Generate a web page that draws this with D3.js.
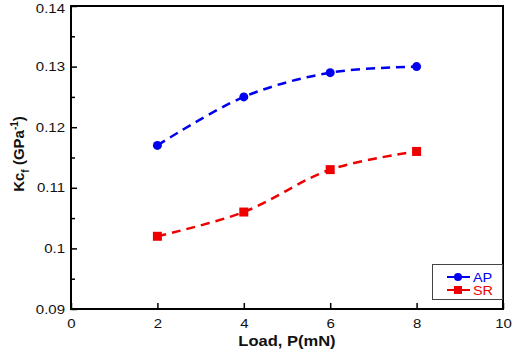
<!DOCTYPE html>
<html>
<head>
<meta charset="utf-8">
<script src="https://cdnjs.cloudflare.com/ajax/libs/d3/7.8.5/d3.min.js"></script>
<style>
  body { margin: 0; background: #fff; }
  text { font-family: "Liberation Sans", Arial, sans-serif; }
</style>
</head>
<body>
<div id="chart"></div>
<script>
var loads = [2, 4, 6, 8]
var apValues = [0.117, 0.125, 0.129, 0.130]
var srValues = [0.102, 0.106, 0.113, 0.116]
var xTicks = [0, 2, 4, 6, 8, 10]
var yTicks = [0.09, 0.1, 0.11, 0.12, 0.13, 0.14]
var yTickLabels = ["0.09", "0.1", "0.11", "0.12", "0.13", "0.14"]

var width = 512, height = 352
var margin = {left: 71, top: 6, right: 9, bottom: 43}

var x = d3.scaleLinear().domain([0, 10]).range([margin.left, width - margin.right])
var y = d3.scaleLinear().domain([0.09, 0.14]).range([height - margin.bottom, margin.top])

var svg = d3.select("#chart").append("svg")
  .attr("width", width)
  .attr("height", height)

// the original picture is a bit wider than tall, so text looks stretched sideways
function stretch(sel, k) {
  sel.each(function () {
    var len = this.getComputedTextLength()
    d3.select(this).attr("textLength", len * k).attr("lengthAdjust", "spacingAndGlyphs")
  })
}

// axes, ticks inward
var xAxis = svg.append("g")
  .attr("transform", `translate(0,${y(0.09)})`)
  .call(d3.axisBottom(x).tickValues(xTicks).tickSize(-6).tickPadding(10).tickFormat(d3.format("d")))
var yMinor = d3.range(0.095, 0.14, 0.01)
svg.append("g")
  .attr("transform", `translate(${x(0)},0)`)
  .call(d3.axisLeft(y).tickValues(yMinor).tickSize(-4).tickFormat(""))
var yAxis = svg.append("g")
  .attr("transform", `translate(${x(0)},0)`)
  .call(d3.axisLeft(y).tickValues(yTicks).tickSize(-6).tickPadding(6).tickFormat((d, i) => yTickLabels[i]))

svg.selectAll(".domain").remove()
svg.selectAll(".tick line").attr("stroke", "#000").attr("stroke-width", 1.5)
svg.selectAll(".tick text").attr("font-size", 12.5).attr("fill", "#111")
  .attr("font-family", "Liberation Sans, Arial, sans-serif")
stretch(svg.selectAll(".tick text"), 1.2)
// keep the top label inside the picture
yAxis.selectAll(".tick text").filter(d => d == 0.14).attr("dy", "0.5em")

// frame
svg.append("rect")
  .attr("x", x(0)).attr("y", y(0.14))
  .attr("width", x(10) - x(0)).attr("height", y(0.09) - y(0.14))
  .attr("fill", "none").attr("stroke", "#000").attr("stroke-width", 2)

var line = d3.line()
  .x((d, i) => x(loads[i]))
  .y(d => y(d))
  .curve(d3.curveCatmullRom)

var series = [
  {name: "AP", values: apValues, color: "#0000ee", shape: "circle"},
  {name: "SR", values: srValues, color: "#ee0000", shape: "square"}
]

series.forEach(s => {
  svg.append("path")
    .attr("d", line(s.values))
    .attr("fill", "none")
    .attr("stroke", s.color)
    .attr("stroke-width", 2.5)
    .attr("stroke-dasharray", "9,6")
  if (s.shape == "circle") {
    svg.selectAll(null).data(s.values).join("circle")
      .attr("cx", (d, i) => x(loads[i]))
      .attr("cy", d => y(d))
      .attr("r", 4.5)
      .attr("fill", s.color)
  } else {
    svg.selectAll(null).data(s.values).join("rect")
      .attr("x", (d, i) => x(loads[i]) - 4.5)
      .attr("y", d => y(d) - 4.5)
      .attr("width", 9).attr("height", 9)
      .attr("fill", s.color)
  }
})

// legend
var lg = svg.append("g")
lg.append("rect")
  .attr("x", 432.5).attr("y", 264.5).attr("width", 70).attr("height", 35)
  .attr("fill", "#fff").attr("stroke", "#444").attr("stroke-width", 1)
series.forEach((s, i) => {
  var ly = 277 + i * 13
  lg.append("line")
    .attr("x1", 447).attr("x2", 470).attr("y1", ly).attr("y2", ly)
    .attr("stroke", s.color).attr("stroke-width", 2)
  if (s.shape == "circle") {
    lg.append("circle").attr("cx", 458).attr("cy", ly).attr("r", 4).attr("fill", s.color)
  } else {
    lg.append("rect").attr("x", 454).attr("y", ly - 4).attr("width", 8).attr("height", 8).attr("fill", s.color)
  }
  lg.append("text")
    .attr("x", 473).attr("y", ly + 4.5)
    .attr("font-size", 12)
    .attr("fill", s.color)
    .text(s.name)
})
stretch(lg.selectAll("text"), 1.2)

// axis titles
var xt = svg.append("text")
  .attr("x", (x(0) + x(10)) / 2)
  .attr("y", 346)
  .attr("text-anchor", "middle")
  .attr("font-size", 14)
  .attr("font-weight", "bold")
  .attr("fill", "#111")
  .text("Load, P(mN)")
stretch(xt, 1.18)

var yt = svg.append("text")
  .attr("transform", `translate(24,154) rotate(-90)`)
  .attr("text-anchor", "middle")
  .attr("font-size", 15)
  .attr("font-weight", "bold")
  .attr("fill", "#111")
yt.append("tspan").text("Kc")
yt.append("tspan").attr("font-size", 10).attr("dy", 5).text("f")
yt.append("tspan").attr("dy", -5).text(" (GPa")
yt.append("tspan").attr("font-size", 10).attr("dy", -6).text("-1")
yt.append("tspan").attr("dy", 6).text(")")
</script>
</body>
</html>
